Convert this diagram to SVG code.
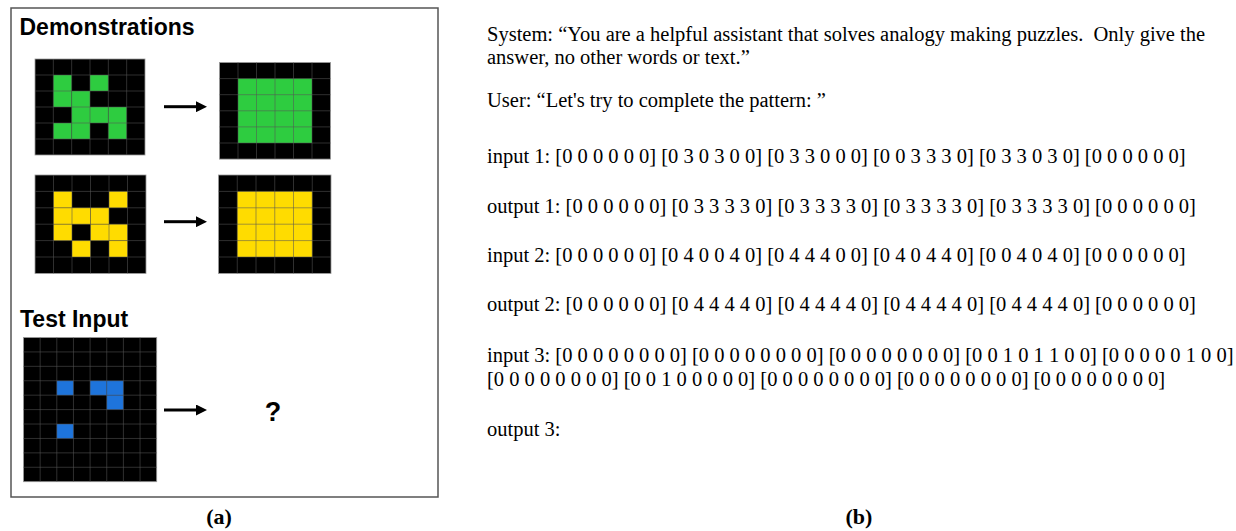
<svg xmlns="http://www.w3.org/2000/svg" width="1236" height="531" viewBox="0 0 1236 531">
<style>
.h{font-family:"Liberation Sans",Arial,sans-serif;font-weight:bold;font-size:23px;fill:#000}
.t{font-family:"Liberation Serif","Times New Roman",serif;font-size:20.5px;fill:#000;white-space:pre}
.cap{font-family:"Liberation Serif","Times New Roman",serif;font-size:22px;font-weight:bold;fill:#000;text-anchor:middle}
.bg{fill:#000;stroke:#999;stroke-width:0.8}
.gl{fill:none;stroke:#555;stroke-opacity:0.55;stroke-width:1}
.g{fill:#2ECC40}
.y{fill:#FFDC00}
.b{fill:#1E74DB}
.arr{stroke:#000;stroke-width:3;fill:none}
</style>
<defs>
<marker id="ah" markerUnits="userSpaceOnUse" markerWidth="11" markerHeight="11" refX="0" refY="5.5" orient="auto">
<path d="M0,0 L11,5.5 L0,11 z" fill="#000"/>
</marker>
</defs>
<rect width="1236" height="531" fill="#fff"/>
<g id="panel-a">
<rect x="11" y="8" width="427" height="489" fill="none" stroke="#555" stroke-width="1.5"/>
<text class="h" x="19.5" y="35">Demonstrations</text>
<text class="h" x="20" y="327">Test Input</text>
</g>
<g id="demo1-input">
<rect class="bg" x="35" y="59" width="110" height="96"/>
<rect class="g" x="53.33" y="75" width="18.34" height="16"/>
<rect class="g" x="90" y="75" width="18.34" height="16"/>
<rect class="g" x="53.33" y="91" width="18.34" height="16"/>
<rect class="g" x="71.67" y="91" width="18.34" height="16"/>
<rect class="g" x="71.67" y="107" width="18.34" height="16"/>
<rect class="g" x="90" y="107" width="18.34" height="16"/>
<rect class="g" x="108.33" y="107" width="18.34" height="16"/>
<rect class="g" x="53.33" y="123" width="18.34" height="16"/>
<rect class="g" x="71.67" y="123" width="18.34" height="16"/>
<rect class="g" x="108.33" y="123" width="18.34" height="16"/>
<path class="gl" d="M53.33 59V155M71.67 59V155M90 59V155M108.33 59V155M126.67 59V155M35 75H145M35 91H145M35 107H145M35 123H145M35 139H145"/>
</g>
<g id="demo1-output">
<rect class="bg" x="219.5" y="62.5" width="111" height="96.6"/>
<rect class="g" x="238" y="78.6" width="74" height="64.4"/>
<path class="gl" d="M238 62.5V159.1M256.5 62.5V159.1M275 62.5V159.1M293.5 62.5V159.1M312 62.5V159.1M219.5 78.6H330.5M219.5 94.7H330.5M219.5 110.8H330.5M219.5 126.9H330.5M219.5 143H330.5"/>
</g>
<g id="demo2-input">
<rect class="bg" x="35" y="175" width="111" height="98.4"/>
<rect class="y" x="53.5" y="191.4" width="18.5" height="16.4"/>
<rect class="y" x="109" y="191.4" width="18.5" height="16.4"/>
<rect class="y" x="53.5" y="207.8" width="18.5" height="16.4"/>
<rect class="y" x="72" y="207.8" width="18.5" height="16.4"/>
<rect class="y" x="90.5" y="207.8" width="18.5" height="16.4"/>
<rect class="y" x="53.5" y="224.2" width="18.5" height="16.4"/>
<rect class="y" x="90.5" y="224.2" width="18.5" height="16.4"/>
<rect class="y" x="109" y="224.2" width="18.5" height="16.4"/>
<rect class="y" x="72" y="240.6" width="18.5" height="16.4"/>
<rect class="y" x="109" y="240.6" width="18.5" height="16.4"/>
<path class="gl" d="M53.5 175V273.4M72 175V273.4M90.5 175V273.4M109 175V273.4M127.5 175V273.4M35 191.4H146M35 207.8H146M35 224.2H146M35 240.6H146M35 257H146"/>
</g>
<g id="demo2-output">
<rect class="bg" x="218.5" y="175" width="112.5" height="98.4"/>
<rect class="y" x="237.25" y="191.4" width="75" height="65.6"/>
<path class="gl" d="M237.25 175V273.4M256 175V273.4M274.75 175V273.4M293.5 175V273.4M312.25 175V273.4M218.5 191.4H331M218.5 207.8H331M218.5 224.2H331M218.5 240.6H331M218.5 257H331"/>
</g>
<g id="test-input">
<rect class="bg" x="23.5" y="337.5" width="133.2" height="144.2"/>
<rect class="b" x="56.8" y="380.76" width="16.65" height="14.42"/>
<rect class="b" x="90.1" y="380.76" width="16.65" height="14.42"/>
<rect class="b" x="106.75" y="380.76" width="16.65" height="14.42"/>
<rect class="b" x="106.75" y="395.18" width="16.65" height="14.42"/>
<rect class="b" x="56.8" y="424.02" width="16.65" height="14.42"/>
<path class="gl" d="M40.15 337.5V481.7M56.8 337.5V481.7M73.45 337.5V481.7M90.1 337.5V481.7M106.75 337.5V481.7M123.4 337.5V481.7M140.05 337.5V481.7M23.5 351.92H156.7M23.5 366.34H156.7M23.5 380.76H156.7M23.5 395.18H156.7M23.5 409.6H156.7M23.5 424.02H156.7M23.5 438.44H156.7M23.5 452.86H156.7M23.5 467.28H156.7"/>
</g>
<g id="test-output">
<text x="273" y="421" text-anchor="middle" style="font-family:'Liberation Sans',Arial,sans-serif;font-weight:bold;font-size:27px">?</text>
</g>
<g id="connectors">
<line class="arr" x1="164" y1="106.7" x2="196" y2="106.7" marker-end="url(#ah)"/>
<line class="arr" x1="164" y1="221.7" x2="196" y2="221.7" marker-end="url(#ah)"/>
<line class="arr" x1="164" y1="410" x2="196" y2="410" marker-end="url(#ah)"/>
</g>
<g id="panel-b">
<text class="t" x="487" y="41">System: “You are a helpful assistant that solves analogy making puzzles.  Only give the</text>
<text class="t" x="487" y="63.5">answer, no other words or text.”</text>
<text class="t" x="487" y="107">User: “Let's try to complete the pattern: ”</text>
<text class="t" x="487" y="163">input 1: [0 0 0 0 0 0] [0 3 0 3 0 0] [0 3 3 0 0 0] [0 0 3 3 3 0] [0 3 3 0 3 0] [0 0 0 0 0 0]</text>
<text class="t" x="487" y="213">output 1: [0 0 0 0 0 0] [0 3 3 3 3 0] [0 3 3 3 3 0] [0 3 3 3 3 0] [0 3 3 3 3 0] [0 0 0 0 0 0]</text>
<text class="t" x="487" y="262">input 2: [0 0 0 0 0 0] [0 4 0 0 4 0] [0 4 4 4 0 0] [0 4 0 4 4 0] [0 0 4 0 4 0] [0 0 0 0 0 0]</text>
<text class="t" x="487" y="310.5">output 2: [0 0 0 0 0 0] [0 4 4 4 4 0] [0 4 4 4 4 0] [0 4 4 4 4 0] [0 4 4 4 4 0] [0 0 0 0 0 0]</text>
<text class="t" x="487" y="362">input 3: [0 0 0 0 0 0 0 0] [0 0 0 0 0 0 0 0] [0 0 0 0 0 0 0 0] [0 0 1 0 1 1 0 0] [0 0 0 0 0 1 0 0]</text>
<text class="t" x="487" y="386">[0 0 0 0 0 0 0 0] [0 0 1 0 0 0 0 0] [0 0 0 0 0 0 0 0] [0 0 0 0 0 0 0 0] [0 0 0 0 0 0 0 0]</text>
<text class="t" x="487" y="436">output 3:</text>
</g>
<g id="captions">
<text class="cap" x="219" y="524">(a)</text>
<text class="cap" x="859" y="524">(b)</text>
</g>
</svg>
